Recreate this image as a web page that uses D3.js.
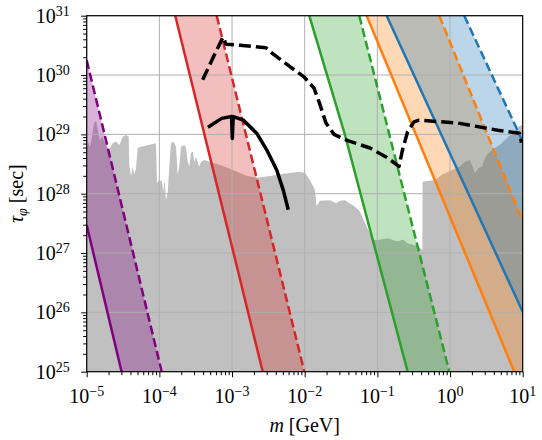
<!DOCTYPE html>
<html lang="en">
<head>
  <meta charset="UTF-8">
  <title>Scalar lifetime bounds</title>
  <script src="https://d3js.org/d3.v7.min.js"></script>
  <style>
    body { margin: 0; background: white; }
    svg text { font-family: "Liberation Serif", "DejaVu Serif", serif; fill: black; }
  </style>
</head>
<body>
  <svg id="chart" width="542" height="440"></svg>

  <script>
    // every point below is [log10(m / GeV), log10(tau / sec)]
    const xTickExps = [-5, -4, -3, -2, -1, 0, 1];
    const yTickExps = [25, 26, 27, 28, 29, 30, 31];

    // grey excluded region (upper edge, filled down to the axis)
    const grayRegion = [
      [-5.000, 28.74], [-4.982, 28.87], [-4.955, 28.79], [-4.927, 28.96], [-4.900, 29.18],
      [-4.872, 29.23], [-4.845, 29.07], [-4.817, 28.89], [-4.789, 28.97], [-4.748, 28.86],
      [-4.721, 28.77], [-4.689, 28.74], [-4.642, 28.85], [-4.597, 28.88], [-4.551, 28.82],
      [-4.505, 28.96], [-4.459, 28.99], [-4.422, 28.96], [-4.414, 28.48], [-4.390, 28.29],
      [-4.367, 28.46], [-4.345, 28.32], [-4.322, 28.43], [-4.298, 28.77], [-4.253, 28.79],
      [-4.046, 28.85], [-4.033, 28.18], [-4.001, 28.23], [-3.964, 28.20], [-3.946, 28.03],
      [-3.927, 28.23], [-3.909, 27.89], [-3.885, 28.03], [-3.863, 28.46], [-3.840, 28.85],
      [-3.808, 28.88], [-3.771, 28.79], [-3.748, 28.32], [-3.726, 28.46], [-3.702, 28.79],
      [-3.657, 28.82], [-3.634, 28.77], [-3.610, 28.54], [-3.588, 28.46], [-3.565, 28.68],
      [-3.541, 28.71], [-3.519, 28.54], [-3.496, 28.62], [-3.451, 28.46], [-3.427, 28.54],
      [-3.382, 28.57], [-3.262, 28.52], [-3.138, 28.47], [-2.987, 28.40], [-2.794, 28.30],
      [-2.657, 28.27], [-2.478, 28.30], [-2.313, 28.33], [-2.065, 28.37], [-1.996, 28.35],
      [-1.927, 28.23], [-1.858, 28.06], [-1.838, 27.79], [-1.790, 27.88], [-1.652, 27.89],
      [-1.569, 27.84], [-1.514, 27.88], [-1.446, 27.89], [-1.308, 27.78], [-1.239, 27.70],
      [-1.191, 27.56], [-1.102, 27.33], [-1.060, 27.22], [-0.991, 27.22], [-0.854, 27.25],
      [-0.771, 27.21], [-0.716, 27.20], [-0.647, 27.23], [-0.579, 27.16], [-0.441, 27.12],
      [-0.380, 27.05], [-0.378, 28.20], [-0.207, 28.23], [-0.111, 28.32], [0.027, 28.40],
      [0.137, 28.46], [0.206, 28.54], [0.275, 28.57], [0.302, 28.48], [0.343, 28.35],
      [0.389, 28.43], [0.440, 28.46], [0.481, 28.60], [0.526, 28.68], [0.619, 28.77],
      [0.711, 28.85], [0.802, 28.96], [0.870, 29.02], [0.939, 29.13], [1.000, 29.16]
    ];

    // coloured bands: solid and dashed edges
    const purpleSolid  = [[-5.000, 27.47], [-4.520, 25]];
    const purpleDashed = [[-5.000, 30.25], [-3.968, 25]];
    const redSolid     = [[-3.781, 31], [-2.578, 25]];
    const redDashed    = [[-3.211, 31], [-2.005, 25]];
    const greenSolid   = [[-1.937, 31], [-1.446, 28.99], [-0.583, 25]];
    const greenDashed  = [[-1.249, 31], [-0.010, 25]];
    const orangeSolid  = [[-1.147, 31], [0.884, 25]];
    const orangeDashed = [[-0.148, 31], [1.000, 27.53]];
    const blueSolid    = [[-0.872, 31], [1.000, 26.01]];
    const blueDashed   = [[0.196, 31], [1.000, 28.88]];

    // black curves
    const blackDashed = [
      [-3.404, 29.92], [-3.262, 30.29], [-3.124, 30.64], [-3.083, 30.52], [-2.890, 30.50],
      [-2.533, 30.46], [-2.450, 30.37], [-2.202, 30.14], [-2.010, 29.97], [-1.872, 29.78],
      [-1.797, 29.53], [-1.707, 29.19], [-1.597, 29.00], [-1.418, 28.90], [-1.102, 28.77],
      [-0.868, 28.61], [-0.702, 28.46], [-0.654, 28.74], [-0.585, 29.04], [-0.496, 29.21],
      [-0.427, 29.24], [0.109, 29.19], [0.656, 29.07], [0.956, 29.02], [0.983, 28.86]
    ];
    const blackSolid = [
      [-3.331, 29.12], [-3.142, 29.27], [-3.007, 29.30], [-2.996, 28.93], [-2.984, 29.30],
      [-2.845, 29.24], [-2.661, 29.02], [-2.523, 28.74], [-2.385, 28.40], [-2.295, 28.06],
      [-2.226, 27.73]
    ];

    const bands = [
      { color: "#800080", solid: purpleSolid, dashed: purpleDashed },
      { color: "#d62728", solid: redSolid,    dashed: redDashed },
      { color: "#2ca02c", solid: greenSolid,  dashed: greenDashed },
      { color: "#ff7f0e", solid: orangeSolid, dashed: orangeDashed },
      { color: "#1f77b4", solid: blueSolid,   dashed: blueDashed }
    ];

    const svg = d3.select("#chart"),
      margin = {top: 15.7, right: 19.3, bottom: 68.3, left: 86.7},
      width = +svg.attr("width") - margin.left - margin.right,
      height = +svg.attr("height") - margin.top - margin.bottom;

    const xMin = d3.min(xTickExps), xMax = d3.max(xTickExps);
    const yMin = d3.min(yTickExps), yMax = d3.max(yTickExps);

    const x = d3.scaleLog().domain([10 ** xMin, 10 ** xMax]).range([0, width]);
    const y = d3.scaleLog().domain([10 ** yMin, 10 ** yMax]).range([height, 0]);

    const px = d => x(10 ** d[0]);
    const py = d => y(10 ** d[1]);
    const line = d3.line().x(px).y(py);

    const chart = svg.append("g")
      .attr("transform", `translate(${margin.left},${margin.top})`);

    svg.append("defs").append("clipPath").attr("id", "plotClip")
      .append("rect").attr("width", width).attr("height", height);

    const plot = chart.append("g").attr("clip-path", "url(#plotClip)");

    // grey region
    plot.append("path")
      .attr("d", line(grayRegion.concat([[xMax, yMin], [xMin, yMin]])) + "Z")
      .attr("fill", "#c0c0c0");

    // band fills
    bands.forEach(b => {
      let poly = b.solid.slice();
      const sEnd = b.solid[b.solid.length - 1], dEnd = b.dashed[b.dashed.length - 1];
      if (sEnd[1] === yMin && dEnd[0] === xMax) poly.push([xMax, yMin]);
      poly = poly.concat(b.dashed.slice().reverse());
      plot.append("path")
        .attr("d", line(poly) + "Z")
        .attr("fill", b.color)
        .attr("fill-opacity", 0.3);
    });

    // grid
    xTickExps.forEach(e => {
      plot.append("line")
        .attr("x1", x(10 ** e)).attr("x2", x(10 ** e))
        .attr("y1", 0).attr("y2", height)
        .attr("stroke", "#b0b0b0").attr("stroke-width", 1);
    });
    yTickExps.forEach(e => {
      plot.append("line")
        .attr("x1", 0).attr("x2", width)
        .attr("y1", y(10 ** e)).attr("y2", y(10 ** e))
        .attr("stroke", "#b0b0b0").attr("stroke-width", 1);
    });

    // band edges
    bands.forEach(b => {
      plot.append("path").attr("d", line(b.solid))
        .attr("fill", "none").attr("stroke", b.color).attr("stroke-width", 2.5);
      plot.append("path").attr("d", line(b.dashed))
        .attr("fill", "none").attr("stroke", b.color).attr("stroke-width", 2.5)
        .attr("stroke-dasharray", "9,4");
    });

    // black curves
    plot.append("path").attr("d", line(blackDashed))
      .attr("fill", "none").attr("stroke", "black").attr("stroke-width", 3.5)
      .attr("stroke-dasharray", "12,5").attr("stroke-linejoin", "round");
    plot.append("path").attr("d", line(blackSolid))
      .attr("fill", "none").attr("stroke", "black").attr("stroke-width", 3.5)
      .attr("stroke-linejoin", "round");

    // ticks
    const minorX = [], minorY = [];
    d3.range(xMin, xMax).forEach(e => d3.range(2, 10).forEach(k => minorX.push(k * 10 ** e)));
    d3.range(yMin, yMax).forEach(e => d3.range(2, 10).forEach(k => minorY.push(k * 10 ** e)));
    const majorX = xTickExps.map(e => 10 ** e), majorY = yTickExps.map(e => 10 ** e);

    function tickAxis(axis, values, size) {
      return axis.tickValues(values).tickSize(size).tickSizeOuter(0).tickFormat("");
    }
    const axes = [
      chart.append("g").attr("transform", `translate(0,${height})`).call(tickAxis(d3.axisBottom(x), majorX, 5.5)),
      chart.append("g").attr("transform", `translate(0,${height})`).call(tickAxis(d3.axisBottom(x), minorX, 3.5)),
      chart.append("g").call(tickAxis(d3.axisLeft(y), majorY, 5.5)),
      chart.append("g").call(tickAxis(d3.axisLeft(y), minorY, 3.5))
    ];
    axes.forEach(g => {
      g.select(".domain").remove();
      g.selectAll("line").attr("stroke", "black").attr("stroke-width", 1);
    });

    // frame
    chart.append("rect")
      .attr("width", width).attr("height", height)
      .attr("fill", "none").attr("stroke", "black").attr("stroke-width", 1.2);

    // tick labels
    const sup = e => (e < 0 ? "\u2212" + Math.abs(e) : String(e));
    xTickExps.forEach(e => {
      const t = chart.append("text")
        .attr("x", x(10 ** e)).attr("y", height + 31.5)
        .attr("text-anchor", "middle").style("font-size", "20px");
      t.append("tspan").text("10");
      t.append("tspan").attr("dy", -7).style("font-size", "14px").text(sup(e));
    });
    yTickExps.forEach(e => {
      const t = chart.append("text")
        .attr("x", -17).attr("y", y(10 ** e) + 7)
        .attr("text-anchor", "end").style("font-size", "20px");
      t.append("tspan").text("10");
      t.append("tspan").attr("dy", -7).style("font-size", "14px").text(sup(e));
    });

    // axis labels
    const xl = chart.append("text")
      .attr("x", width / 2).attr("y", height + 60)
      .attr("text-anchor", "middle").style("font-size", "20px");
    xl.append("tspan").style("font-style", "italic").text("m");
    xl.append("tspan").text(" [GeV]");

    const yl = svg.append("text")
      .attr("transform", `translate(23,${margin.top + height / 2}) rotate(-90)`)
      .attr("text-anchor", "middle").style("font-size", "20px");
    yl.append("tspan").style("font-style", "italic").text("\u03c4");
    yl.append("tspan").attr("dy", 4).style("font-style", "italic").style("font-size", "14px").text("\u03c6");
    yl.append("tspan").attr("dy", -4).text(" [sec]");
  </script>
</body>
</html>
